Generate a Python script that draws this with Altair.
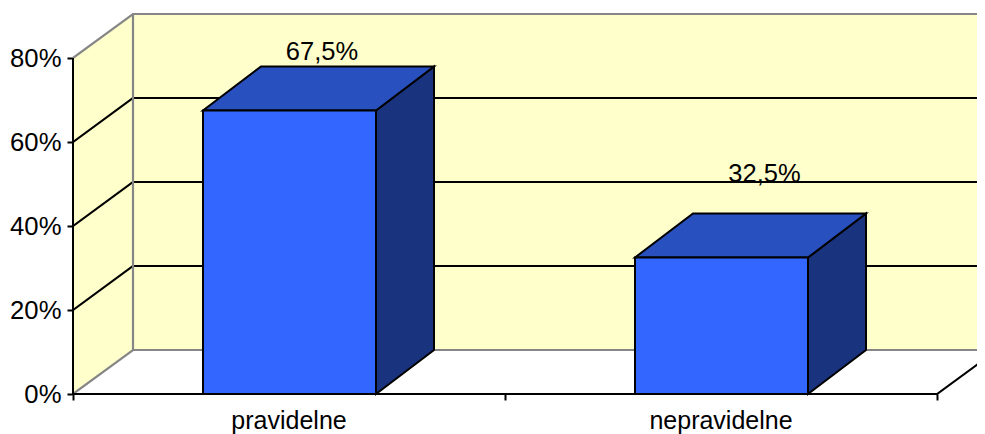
import altair as alt
import pandas as pd

categories = ["pravidelne", "nepravidelne"]
values = [67.5, 32.5]
value_labels = ["67,5%", "32,5%"]
y_ticks = [0, 20, 40, 60, 80]
grid_values = [20, 40, 60]

# chart geometry, in data units (one category = 1 on x, percent on y)
PX_X = 432.0
PX_Y = 4.2
W_PX, H_PX = 904, 380
DEPTH_X = 60 / PX_X
DEPTH_Y = 44 / PX_Y
BAR_DX = 58 / PX_X
BAR_W = 173 / PX_X
BAR_LEFT = [130 / PX_X, 562 / PX_X]
LABEL_X = [249 / PX_X, 691.5 / PX_X]
LABEL_Y = [79.5, 50.5]
X_MAX = W_PX / PX_X
Y_MAX = H_PX / PX_Y

LW = 2

xs = alt.Scale(domain=[0, X_MAX], nice=False, zero=False)
ys = alt.Scale(domain=[0, Y_MAX], nice=False, zero=False)
x_axis = alt.Axis(values=[0, 1, 2], labels=False, title=None, grid=False, domain=False,
                  ticks=True, tickColor="#000000", tickWidth=LW, tickSize=6)
y_axis = alt.Axis(values=y_ticks, labelExpr="datum.value + '%'", title=None, grid=False, domain=False,
                  ticks=True, tickColor="#000000", tickWidth=LW, tickSize=6, labelPadding=6,
                  labelFont="Liberation Sans", labelFontSize=25.7, labelColor="#000000")
X = alt.X("x:Q", scale=xs, axis=x_axis)
Y = alt.Y("y:Q", scale=ys, axis=y_axis, stack=False)
Y2 = alt.Y2("y2:Q")

GRAY = "#868686"


def face(rows, fill, stroke=None):
    df = pd.DataFrame(rows, columns=["x", "y", "y2"])
    kw = {"stroke": stroke, "strokeWidth": LW} if stroke else {}
    return alt.Chart(df).mark_area(fill=fill, opacity=1, interpolate="linear", **kw).encode(x=X, y=Y, y2=Y2)


def lines(rows, color, width=LW):
    df = pd.DataFrame(rows, columns=["x", "y", "g"])
    return alt.Chart(df).mark_line(color=color, strokeWidth=width, strokeCap="square").encode(
        x=X, y=Y, detail="g:N", order=alt.Order("o:Q")
    ).transform_calculate(o="datum.x")


wall = "#FFFFCC"
layers = []
# back wall
layers.append(face([(DEPTH_X, DEPTH_Y, Y_MAX), (X_MAX, DEPTH_Y, Y_MAX)], wall))
# left wall
layers.append(face([(0, 0, 80), (DEPTH_X, DEPTH_Y, 80 + DEPTH_Y)], wall))

# gridlines
grid = []
for i, v in enumerate(grid_values):
    grid += [(0, v, i), (DEPTH_X, v + DEPTH_Y, i), ]
    grid += [(DEPTH_X, v + DEPTH_Y, 10 + i), (X_MAX, v + DEPTH_Y, 10 + i)]
layers.append(lines(grid, "#000000"))

# gray wall edges
edges = [
    (0, 80, 0), (DEPTH_X, 80 + DEPTH_Y, 0), (X_MAX, 80 + DEPTH_Y, 0),
    (0, 0, 1), (DEPTH_X, DEPTH_Y, 1), (X_MAX, DEPTH_Y, 1),
]
layers.append(lines(edges, GRAY, 2.2))
vertical = pd.DataFrame({"x": [DEPTH_X], "y": [DEPTH_Y], "y2": [80 + DEPTH_Y]})
layers.append(alt.Chart(vertical).mark_rule(color=GRAY, strokeWidth=2.2).encode(x=X, y=Y, y2=Y2))

# floor front edge and right diagonal
right_dx = X_MAX - 2
layers.append(lines([(0, 0, 0), (2, 0, 0), (2, 0, 1), (X_MAX, right_dx * DEPTH_Y / DEPTH_X, 1)], "#000000"))
y_axis_line = pd.DataFrame({"x": [0], "y": [0], "y2": [80]})
layers.append(alt.Chart(y_axis_line).mark_rule(color="#000000", strokeWidth=LW).encode(x=X, y=Y, y2=Y2))

# bars
for left, v in zip(BAR_LEFT, values):
    r = left + BAR_W
    layers.append(face([(r, 0, v), (r + BAR_DX, DEPTH_Y, v + DEPTH_Y)], "#1A337E", "#000000"))
    layers.append(face([
        (left, v, v),
        (left + BAR_DX, v, v + DEPTH_Y),
        (r, v, v + DEPTH_Y),
        (r + BAR_DX, v + DEPTH_Y, v + DEPTH_Y),
    ], "#2850BE", "#000000"))
    layers.append(face([(left, 0, v), (r, 0, v)], "#3366FF", "#000000"))

# category and value labels
cat_df = pd.DataFrame({"x": [0.5, 1.5], "y": [0, 0], "t": categories})
layers.append(alt.Chart(cat_df).mark_text(
    font="Liberation Sans", fontSize=25, color="#000000", baseline="alphabetic", dy=35
).encode(x=X, y=Y, text="t:N"))
val_df = pd.DataFrame({"x": LABEL_X, "y": LABEL_Y, "t": value_labels})
layers.append(alt.Chart(val_df).mark_text(
    font="Liberation Sans", fontSize=25.5, color="#000000", baseline="alphabetic"
).encode(x=X, y=Y, text="t:N"))

chart = alt.layer(*layers).properties(
    width=W_PX, height=H_PX,
    autosize=alt.AutoSizeParams(type="none"),
    padding={"left": 65, "top": 6, "right": 0, "bottom": 40},
    background="#FFFFFF",
).configure_view(stroke=None)

chart.save("out.html", embed_options={"renderer": "svg", "actions": False})
